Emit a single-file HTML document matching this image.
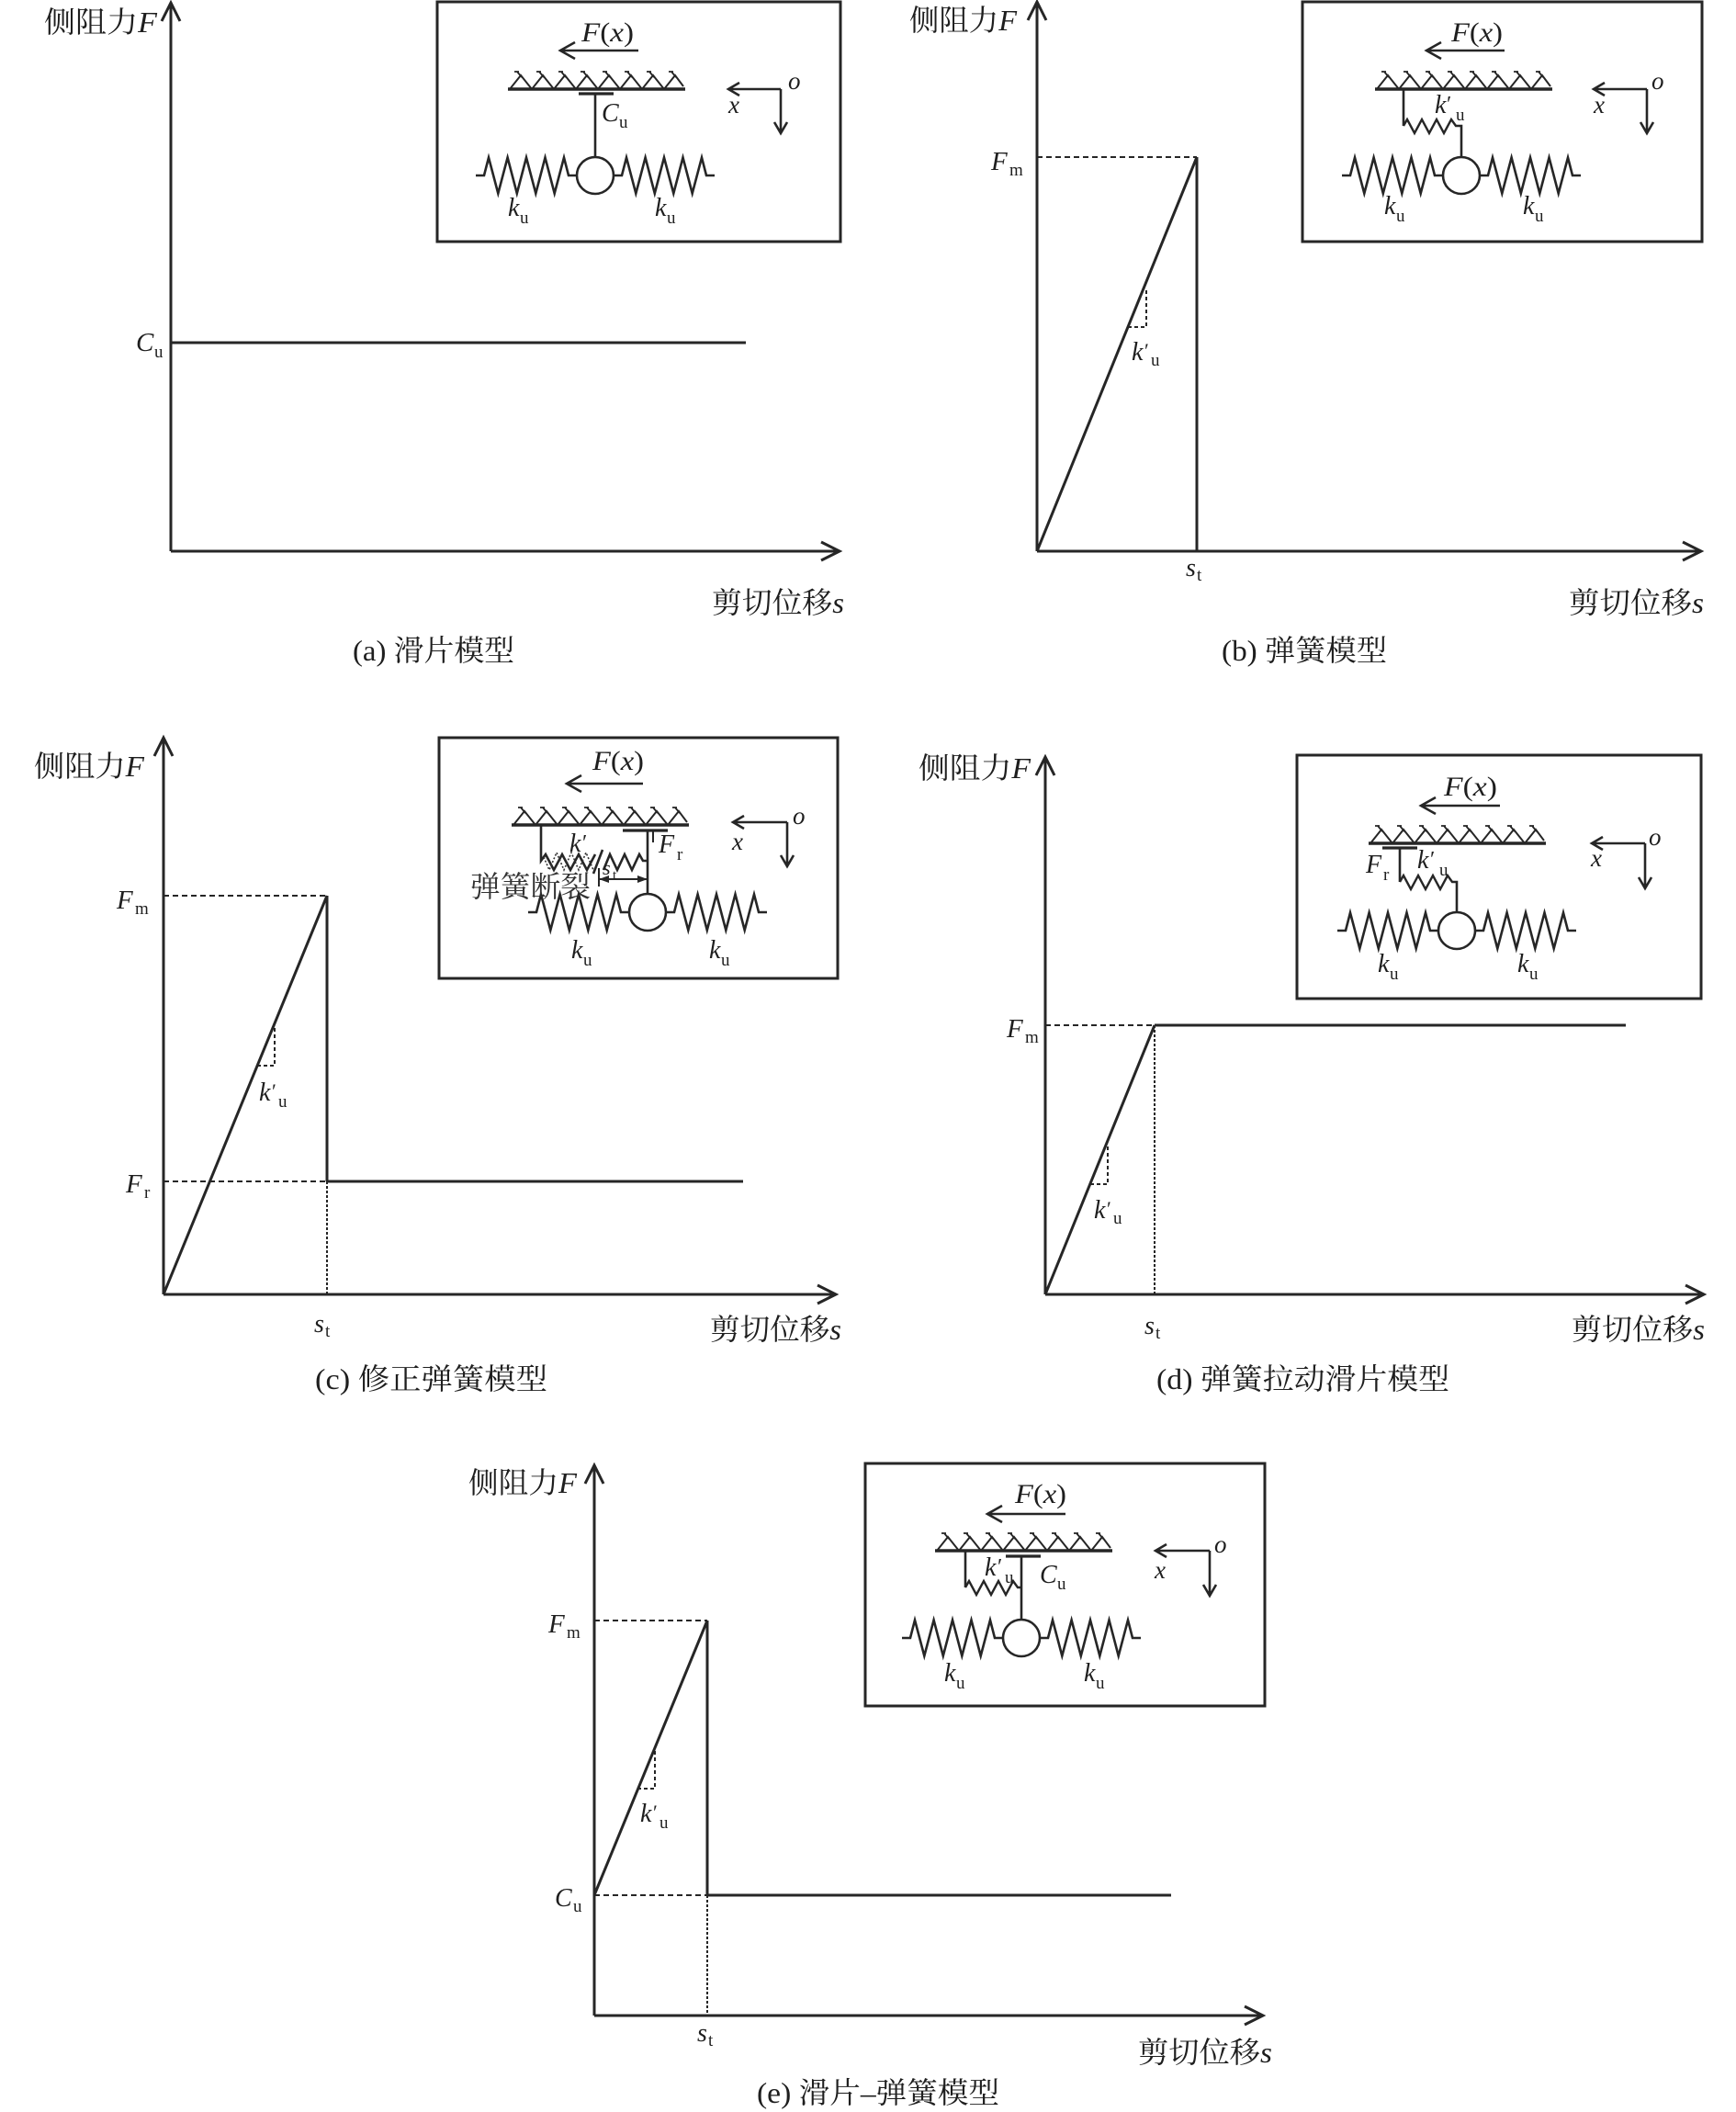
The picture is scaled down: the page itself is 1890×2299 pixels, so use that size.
<!DOCTYPE html>
<html><head><meta charset="utf-8">
<style>
html,body{margin:0;padding:0;background:#fff}
svg{display:block}
text{fill:#1e1e1e;stroke:none}
.cn{font-family:"Liberation Serif","Noto Serif CJK SC",serif;font-size:32px}
.i{font-family:"Liberation Serif",serif;font-style:italic}
.r{font-family:"Liberation Serif",serif;font-style:normal}
</style></head><body>
<svg width="1890" height="2299" viewBox="0 0 1890 2299" xmlns="http://www.w3.org/2000/svg">
<rect x="0" y="0" width="1890" height="2299" fill="#fff"/>
<defs>
<path id="sp" d="M0,0 H9 L14,-19.5 L24.3,19.5 L34.6,-19.5 L44.8,19.5 L55,-19.5 L65.3,19.5 L75.5,-19.5 L85.7,19.5 L96,-19.5 L101,0 H110" fill="none" stroke="#262626" stroke-width="2.6" stroke-linejoin="miter"/>
<path id="ssp" d="M0,0 L4,-7 L12,8 L20,-7 L28,8 L36,-7 L44,8 L52,-7 L57,0 H61" fill="none" stroke="#262626" stroke-width="2.4"/>
<g id="hatch" fill="none" stroke="#262626">
<line x1="0" y1="0" x2="193" y2="0" stroke-width="3.4"/>
<path stroke-width="2" d="M2,0 L14,-15 L26,0 L38,-15 L50,0 L62,-15 L74,0 L86,-15 L98,0 L110,-15 L122,0 L134,-15 L146,0 L158,-15 L170,0 L182,-15 L191,-3"/>
<path stroke-width="1.8" d="M10,-19 L15,-13 M34,-19 L39,-13 M58,-19 L63,-13 M82,-19 L87,-13 M106,-19 L111,-13 M130,-19 L135,-13 M154,-19 L159,-13 M178,-19 L183,-13 M7,-19 H12 M31,-19 H36 M55,-19 H60 M79,-19 H84 M103,-19 H108 M127,-19 H132 M151,-19 H156 M175,-19 H180"/>
</g>
</defs>

<!-- ================= PANEL A ================= -->
<g stroke="#262626" stroke-width="3" fill="none">
<path d="M186,600 V3 M176,23 L186,3 L196,23"/>
<path d="M186,600 H914 M894,590 L914,600 L894,610"/>
<path d="M186,373 H812"/>
</g>
<text class="cn" x="48" y="35" textLength="123" lengthAdjust="spacingAndGlyphs">侧阻力<tspan class="i">F</tspan></text>
<text class="cn" x="775" y="667" textLength="144" lengthAdjust="spacingAndGlyphs">剪切位移<tspan class="i">s</tspan></text>
<text class="cn" x="384" y="719" textLength="176" lengthAdjust="spacingAndGlyphs"><tspan class="r">(a)</tspan> 滑片模型</text>
<text class="i" x="148" y="382" font-size="29">C</text><text class="r" x="168" y="389" font-size="19">u</text>

<!-- inset A -->
<rect x="476" y="2" width="439" height="261" fill="none" stroke="#262626" stroke-width="3"/>
<text class="r" x="633" y="45" font-size="30" textLength="57" lengthAdjust="spacingAndGlyphs"><tspan class="i">F</tspan>(<tspan class="i">x</tspan>)</text>
<g stroke="#262626" stroke-width="2.6" fill="none">
<path d="M610,55 H695 M626,46 L610,55 L626,64"/>
<path d="M630,102 H668" stroke-width="3.2"/>
<path d="M648,102 V171"/>
<circle cx="648" cy="191" r="20"/>
<path d="M850,97 H793 M805,90 L793,97 L805,104 M850,97 V145 M843,133 L850,145 L857,133"/>
</g>
<use href="#hatch" x="553" y="97"/>
<use href="#sp" x="518" y="191"/>
<use href="#sp" x="668" y="191"/>
<text class="i" x="655" y="132" font-size="28">C</text><text class="r" x="674" y="139" font-size="19">u</text>
<text class="i" x="553" y="235" font-size="28">k</text><text class="r" x="566" y="243" font-size="19">u</text>
<text class="i" x="713" y="235" font-size="28">k</text><text class="r" x="726" y="243" font-size="19">u</text>
<text class="i" x="858" y="97" font-size="27">o</text>
<text class="i" x="793" y="123" font-size="27">x</text>

<!-- ================= PANEL B ================= -->
<g stroke="#262626" stroke-width="3" fill="none">
<path d="M1129,600 V2 M1119,22 L1129,2 L1139,22"/>
<path d="M1129,600 H1852 M1832,590 L1852,600 L1832,610"/>
<path d="M1303,171 V600"/>
<path d="M1129,600 L1303,171"/>
</g>
<g stroke="#262626" stroke-width="2" fill="none" stroke-dasharray="6 4">
<path d="M1129,171 H1303"/>
<path d="M1228,356 H1248 V313" stroke-dasharray="4 3"/>
</g>
<text class="cn" x="990" y="33" textLength="117" lengthAdjust="spacingAndGlyphs">侧阻力<tspan class="i">F</tspan></text>
<text class="cn" x="1708" y="667" textLength="147" lengthAdjust="spacingAndGlyphs">剪切位移<tspan class="i">s</tspan></text>
<text class="cn" x="1330" y="719" textLength="180" lengthAdjust="spacingAndGlyphs"><tspan class="r">(b)</tspan> 弹簧模型</text>
<text class="i" x="1079" y="185" font-size="29">F</text><text class="r" x="1099" y="191" font-size="19">m</text>
<text class="i" x="1232" y="392" font-size="28">k</text><text class="r" x="1246" y="389" font-size="22">′</text><text class="r" x="1253" y="398" font-size="19">u</text>
<text class="i" x="1291" y="627" font-size="28">s</text><text class="r" x="1303" y="632" font-size="19">t</text>

<!-- inset B -->
<rect x="1418" y="2" width="435" height="261" fill="none" stroke="#262626" stroke-width="3"/>
<text class="r" x="1580" y="45" font-size="30" textLength="56" lengthAdjust="spacingAndGlyphs"><tspan class="i">F</tspan>(<tspan class="i">x</tspan>)</text>
<g stroke="#262626" stroke-width="2.6" fill="none">
<path d="M1553,55 H1638 M1569,46 L1553,55 L1569,64"/>
<path d="M1528,97 V137"/>
<path d="M1589,137 H1591 V172"/>
<circle cx="1591" cy="191" r="20"/>
<path d="M1793,97 H1735 M1747,90 L1735,97 L1747,104 M1793,97 V145 M1786,133 L1793,145 L1800,133"/>
</g>
<use href="#hatch" x="1497" y="97"/>
<use href="#ssp" x="1528" y="137"/>
<use href="#sp" x="1461" y="191"/>
<use href="#sp" x="1611" y="191"/>
<text class="i" x="1562" y="123" font-size="28">k</text><text class="r" x="1575" y="121" font-size="24">′</text><text class="r" x="1585" y="131" font-size="19">u</text>
<text class="i" x="1507" y="233" font-size="28">k</text><text class="r" x="1520" y="241" font-size="19">u</text>
<text class="i" x="1658" y="233" font-size="28">k</text><text class="r" x="1671" y="241" font-size="19">u</text>
<text class="i" x="1798" y="97" font-size="27">o</text>
<text class="i" x="1735" y="123" font-size="27">x</text>

<!-- ================= PANEL C ================= -->
<g stroke="#262626" stroke-width="3" fill="none">
<path d="M178,1409 V803 M168,823 L178,803 L188,823"/>
<path d="M178,1409 H910 M890,1399 L910,1409 L890,1419"/>
<path d="M356,975 V1286"/>
<path d="M178,1409 L356,975"/>
<path d="M356,1286 H809"/>
</g>
<g stroke="#262626" stroke-width="2" fill="none" stroke-dasharray="6 4">
<path d="M178,975 H356"/>
<path d="M178,1286 H356"/>
<path d="M356,1286 V1409" stroke-dasharray="3 2"/>
<path d="M280,1160 H299 V1117" stroke-dasharray="4 3"/>
</g>
<text class="cn" x="37" y="845" textLength="120" lengthAdjust="spacingAndGlyphs">侧阻力<tspan class="i">F</tspan></text>
<text class="cn" x="773" y="1458" textLength="143" lengthAdjust="spacingAndGlyphs">剪切位移<tspan class="i">s</tspan></text>
<text class="cn" x="343" y="1512" textLength="253" lengthAdjust="spacingAndGlyphs"><tspan class="r">(c)</tspan> 修正弹簧模型</text>
<text class="i" x="127" y="989" font-size="29">F</text><text class="r" x="147" y="995" font-size="19">m</text>
<text class="i" x="137" y="1298" font-size="29">F</text><text class="r" x="157" y="1304" font-size="19">r</text>
<text class="i" x="282" y="1198" font-size="28">k</text><text class="r" x="296" y="1195" font-size="22">′</text><text class="r" x="303" y="1205" font-size="19">u</text>
<text class="i" x="342" y="1450" font-size="28">s</text><text class="r" x="354" y="1455" font-size="19">t</text>

<!-- inset C -->
<rect x="478" y="803" width="434" height="262" fill="none" stroke="#262626" stroke-width="3"/>
<text class="r" x="645" y="838" font-size="30" textLength="56" lengthAdjust="spacingAndGlyphs"><tspan class="i">F</tspan>(<tspan class="i">x</tspan>)</text>
<g stroke="#262626" stroke-width="2.6" fill="none">
<path d="M617,853 H700 M633,844 L617,853 L633,862"/>
<path d="M678,904 H727" stroke-width="3.2"/>
<path d="M705,904 V973"/>
<path d="M711,904 V917" stroke-width="2"/>
<path d="M589,898 V937 L594,930 L603,947 L612,930 L621,947 L630,930 L639,947 L648,930"/>
<path d="M646,951 L656,925"/>
<path d="M657,947 L664,930 L672,947 L680,930 L688,947 L696,930 L700,937 H705"/>
<circle cx="705" cy="993" r="20"/>
<path d="M857,895 H798 M810,888 L798,895 L810,902 M857,895 V943 M850,931 L857,943 L864,931"/>
<path d="M652,945 V965 M652,957 H705" stroke-width="2"/>
</g>
<path d="M592,933 L598,947 L606,928 L614,947 L622,928 L630,947 L638,928 L646,947" fill="none" stroke="#333" stroke-width="1.6" stroke-dasharray="2 2"/>
<polygon points="652,957 663,953 663,961" fill="#262626"/>
<polygon points="705,957 694,953 694,961" fill="#262626"/>
<use href="#hatch" x="557" y="898"/>
<use href="#sp" x="575" y="993"/>
<use href="#sp" x="725" y="993"/>
<text class="i" x="717" y="928" font-size="28">F</text><text class="r" x="737" y="936" font-size="19">r</text>
<text class="i" x="620" y="927" font-size="28">k</text><text class="r" x="634" y="925" font-size="24">′</text>
<text class="i" x="656" y="952" font-size="22">s</text><text class="r" x="667" y="957" font-size="15">t</text>
<text class="cn" x="512" y="976" font-size="32" textLength="131" lengthAdjust="spacingAndGlyphs" style="fill:#333">弹簧断裂</text>
<text class="i" x="622" y="1043" font-size="28">k</text><text class="r" x="635" y="1051" font-size="19">u</text>
<text class="i" x="772" y="1043" font-size="28">k</text><text class="r" x="785" y="1051" font-size="19">u</text>
<text class="i" x="863" y="897" font-size="27">o</text>
<text class="i" x="797" y="925" font-size="27">x</text>

<!-- ================= PANEL D ================= -->
<g stroke="#262626" stroke-width="3" fill="none">
<path d="M1138,1409 V824 M1128,844 L1138,824 L1148,844"/>
<path d="M1138,1409 H1855 M1835,1399 L1855,1409 L1835,1419"/>
<path d="M1257,1116 H1770"/>
<path d="M1138,1409 L1257,1116"/>
</g>
<g stroke="#262626" stroke-width="2" fill="none" stroke-dasharray="6 4">
<path d="M1138,1116 H1257"/>
<path d="M1257,1116 V1409" stroke-dasharray="3 2"/>
<path d="M1187,1289 H1206 V1248" stroke-dasharray="4 3"/>
</g>
<text class="cn" x="1000" y="847" textLength="122" lengthAdjust="spacingAndGlyphs">侧阻力<tspan class="i">F</tspan></text>
<text class="cn" x="1711" y="1458" textLength="145" lengthAdjust="spacingAndGlyphs">剪切位移<tspan class="i">s</tspan></text>
<text class="cn" x="1259" y="1512" textLength="319" lengthAdjust="spacingAndGlyphs"><tspan class="r">(d)</tspan> 弹簧拉动滑片模型</text>
<text class="i" x="1096" y="1129" font-size="29">F</text><text class="r" x="1116" y="1135" font-size="19">m</text>
<text class="i" x="1191" y="1326" font-size="28">k</text><text class="r" x="1205" y="1323" font-size="22">′</text><text class="r" x="1212" y="1332" font-size="19">u</text>
<text class="i" x="1246" y="1452" font-size="28">s</text><text class="r" x="1258" y="1457" font-size="19">t</text>

<!-- inset D -->
<rect x="1412" y="822" width="440" height="265" fill="none" stroke="#262626" stroke-width="3"/>
<text class="r" x="1572" y="866" font-size="30" textLength="58" lengthAdjust="spacingAndGlyphs"><tspan class="i">F</tspan>(<tspan class="i">x</tspan>)</text>
<g stroke="#262626" stroke-width="2.6" fill="none">
<path d="M1547,877 H1633 M1563,868 L1547,877 L1563,886"/>
<path d="M1505,923 H1543" stroke-width="3.2"/>
<path d="M1524,923 V960"/>
<path d="M1585,960 H1586 V993"/>
<circle cx="1586" cy="1013" r="20"/>
<path d="M1791,918 H1733 M1745,911 L1733,918 L1745,925 M1791,918 V967 M1784,955 L1791,967 L1798,955"/>
</g>
<use href="#hatch" x="1490" y="918"/>
<use href="#ssp" x="1524" y="960"/>
<use href="#sp" x="1456" y="1013"/>
<use href="#sp" x="1606" y="1013"/>
<text class="i" x="1487" y="950" font-size="28">F</text><text class="r" x="1506" y="958" font-size="19">r</text>
<text class="i" x="1543" y="945" font-size="28">k</text><text class="r" x="1557" y="943" font-size="24">′</text><text class="r" x="1567" y="953" font-size="19">u</text>
<text class="i" x="1500" y="1058" font-size="28">k</text><text class="r" x="1513" y="1066" font-size="19">u</text>
<text class="i" x="1652" y="1058" font-size="28">k</text><text class="r" x="1665" y="1066" font-size="19">u</text>
<text class="i" x="1795" y="920" font-size="27">o</text>
<text class="i" x="1732" y="943" font-size="27">x</text>

<!-- ================= PANEL E ================= -->
<g stroke="#262626" stroke-width="3" fill="none">
<path d="M647,2194 V1595 M637,1615 L647,1595 L657,1615"/>
<path d="M647,2194 H1375 M1355,2184 L1375,2194 L1355,2204"/>
<path d="M770,1764 V2063"/>
<path d="M647,2063 L770,1764"/>
<path d="M770,2063 H1275"/>
</g>
<g stroke="#262626" stroke-width="2" fill="none" stroke-dasharray="6 4">
<path d="M647,1764 H770"/>
<path d="M647,2063 H770"/>
<path d="M770,2063 V2194" stroke-dasharray="3 2"/>
<path d="M694,1947 H713 V1903" stroke-dasharray="4 3"/>
</g>
<text class="cn" x="510" y="1625" textLength="118" lengthAdjust="spacingAndGlyphs">侧阻力<tspan class="i">F</tspan></text>
<text class="cn" x="1239" y="2245" textLength="146" lengthAdjust="spacingAndGlyphs">剪切位移<tspan class="i">s</tspan></text>
<text class="cn" x="824" y="2289" textLength="264" lengthAdjust="spacingAndGlyphs"><tspan class="r">(e)</tspan> 滑片–弹簧模型</text>
<text class="i" x="597" y="1777" font-size="29">F</text><text class="r" x="617" y="1783" font-size="19">m</text>
<text class="i" x="604" y="2075" font-size="28">C</text><text class="r" x="624" y="2081" font-size="19">u</text>
<text class="i" x="697" y="1983" font-size="28">k</text><text class="r" x="711" y="1980" font-size="22">′</text><text class="r" x="718" y="1990" font-size="19">u</text>
<text class="i" x="759" y="2222" font-size="28">s</text><text class="r" x="771" y="2227" font-size="19">t</text>

<!-- inset E -->
<rect x="942" y="1593" width="435" height="264" fill="none" stroke="#262626" stroke-width="3"/>
<text class="r" x="1105" y="1636" font-size="30" textLength="56" lengthAdjust="spacingAndGlyphs"><tspan class="i">F</tspan>(<tspan class="i">x</tspan>)</text>
<g stroke="#262626" stroke-width="2.6" fill="none">
<path d="M1075,1648 H1160 M1091,1639 L1075,1648 L1091,1657"/>
<path d="M1095,1694 H1133" stroke-width="3.2"/>
<path d="M1112,1694 V1763"/>
<path d="M1051,1688 V1728"/>
<circle cx="1112" cy="1783" r="20"/>
<path d="M1317,1688 H1258 M1270,1681 L1258,1688 L1270,1695 M1317,1688 V1737 M1310,1725 L1317,1737 L1324,1725"/>
</g>
<use href="#hatch" x="1018" y="1688"/>
<use href="#ssp" x="1051" y="1728"/>
<use href="#sp" x="982" y="1783"/>
<use href="#sp" x="1132" y="1783"/>
<text class="i" x="1072" y="1715" font-size="28">k</text><text class="r" x="1086" y="1713" font-size="24">′</text><text class="r" x="1094" y="1723" font-size="19">u</text>
<text class="i" x="1132" y="1723" font-size="28">C</text><text class="r" x="1151" y="1730" font-size="19">u</text>
<text class="i" x="1028" y="1830" font-size="28">k</text><text class="r" x="1041" y="1838" font-size="19">u</text>
<text class="i" x="1180" y="1830" font-size="28">k</text><text class="r" x="1193" y="1838" font-size="19">u</text>
<text class="i" x="1322" y="1690" font-size="27">o</text>
<text class="i" x="1257" y="1718" font-size="27">x</text>
</svg>
</body></html>
